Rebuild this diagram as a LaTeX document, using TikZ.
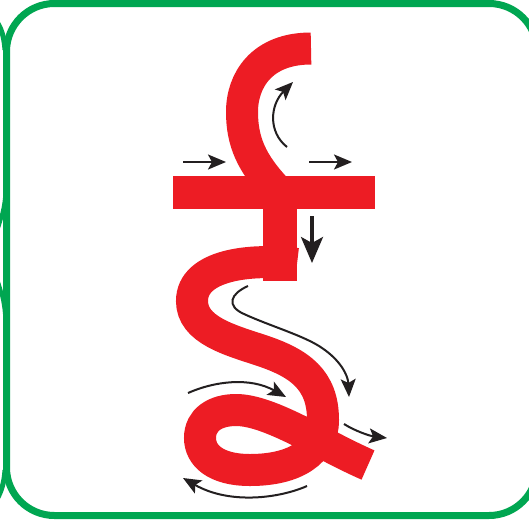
\documentclass[tikz,border=0pt]{standalone}
\usetikzlibrary{arrows.meta}
\definecolor{frameGreen}{RGB}{0,166,81}
\definecolor{glyphRed}{RGB}{237,28,36}
\definecolor{arrowBlack}{RGB}{35,31,32}
\begin{document}
\begin{tikzpicture}[x=1pt,y=-1pt,
  glyph/.style={draw=glyphRed, line width=32pt, line cap=butt},
  guide/.style={draw=arrowBlack, line width=2pt, -{Stealth[length=18pt,width=15pt,inset=4pt]}},
  bigguide/.style={draw=arrowBlack, line width=3.3pt, -{Stealth[length=26pt,width=22pt,inset=6pt]}},
  frameline/.style={draw=frameGreen, line width=7pt}]
\useasboundingbox (0,0) rectangle (529,525);
\clip (0,0) rectangle (529,525);
\fill[white] (0,0) rectangle (529,525);
% frame
\draw[frameline, rounded corners=48pt] (6.5,3.5) rectangle (537,515.5);
\draw[frameline, line width=5pt] (-3,22) .. controls (1,28) and (4,36) .. (5,50);
\draw[frameline, line width=5pt] (-3,499) .. controls (1,492) and (4,484) .. (5,470);
\draw[frameline, line width=4pt] (5,198) .. controls (4,208) and (2,216) .. (-2,228);
\draw[frameline, line width=4pt] (5,314) .. controls (4,302) and (2,294) .. (-2,282);
% glyph
\draw[glyph] (311,48.5) .. controls (262,48.5) and (242,80) .. (242,112)
  .. controls (242,142) and (252,163) .. (275,188);
\fill[glyphRed] (173,176) rectangle (375,209);
\fill[glyphRed] (263,205) rectangle (297,281);
\draw[glyph] (297,264) .. controls (250,258) and (192,265) .. (192,301)
  .. controls (192,330) and (230,340) .. (260,350)
  .. controls (300,363) and (323,380) .. (323,420)
  .. controls (323,452) and (295,470) .. (250,470)
  .. controls (215,470) and (200,455) .. (200,438)
  .. controls (200,420) and (215,410) .. (236,410)
  .. controls (270,410) and (322,445) .. (368,465);
% guide arrows
\coordinate (a1s) at (183,162); \coordinate (a1e) at (226,162);
\draw[guide] (a1s) -- (a1e);
\coordinate (a2s) at (309,162); \coordinate (a2e) at (352,162);
\draw[guide] (a2s) -- (a2e);
\coordinate (a3s) at (287,147); \coordinate (a3e) at (293,82);
\draw[guide] (a3s) .. controls (268,132) and (270,105) .. (a3e);
\coordinate (a4s) at (312,216); \coordinate (a4e) at (312,263);
\draw[bigguide] (a4s) -- (a4e);
\coordinate (a5s) at (248,286); \coordinate (a5e) at (349,397);
\draw[guide] (a5s) .. controls (230,294) and (226,306) .. (244,314)
  .. controls (270,326) and (305,336) .. (322,348)
  .. controls (340,360) and (348,375) .. (a5e);
\coordinate (a6s) at (188,393); \coordinate (a6e) at (286,397);
\draw[guide] (a6s) .. controls (215,381) and (250,377) .. (a6e);
\coordinate (a7s) at (344,424); \coordinate (a7e) at (387,438);
\draw[guide] (a7s) .. controls (355,431) and (370,436) .. (a7e);
\coordinate (a8s) at (307,486); \coordinate (a8e) at (183,478);
\draw[guide] (a8s) .. controls (280,498) and (230,505) .. (a8e);
\end{tikzpicture}
\end{document}
